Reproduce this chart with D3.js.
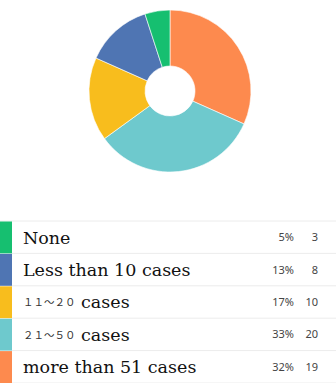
<!DOCTYPE html>
<html>
<head>
<meta charset="utf-8">
<script src="https://cdn.jsdelivr.net/npm/d3@7"></script>
<style>
  html, body { margin: 0; padding: 0; background: #fff; }
  svg { display: block; }
</style>
</head>
<body>
<div id="chart"></div>
<script>
// legend order (top to bottom)
const prefixes = ["", "", "１１～２０", "２１～５０", ""];
const labels = ["None", "Less than 10 cases", " cases", " cases", "more than 51 cases"];
const counts = [3, 8, 10, 20, 19];
const colors = ["#16bf70", "#4f75b3", "#f8bd1d", "#6ec9cd", "#fd8a4e"];

const width = 336, height = 383;
const cx = 170, cy = 91, outerR = 81, innerR = 25;

const svg = d3.select("#chart")
    .append("svg")
    .attr("width", width)
    .attr("height", height);

const total = d3.sum(counts);
const idx = d3.range(counts.length);

// pie drawn clockwise from the top, last category first
const pie = d3.pie()
    .sort(null)
    .value(i => counts[i]);
const arcs = pie(idx.slice().reverse());

const arcGen = d3.arc()
    .innerRadius(innerR)
    .outerRadius(outerR);

svg.append("g")
    .attr("transform", `translate(${cx},${cy})`)
    .selectAll("path")
    .data(arcs)
    .join("path")
    .attr("d", arcGen)
    .attr("fill", d => colors[d.data])
    .attr("stroke", "#fff")
    .attr("stroke-width", 0.6);

// legend table
const tableTop = 221, rowH = 32.4;
const y = d3.scaleLinear().domain([0, counts.length]).range([tableTop, tableTop + rowH * counts.length]);

const legend = svg.append("g");

legend.append("line")
    .attr("x1", 0).attr("x2", width)
    .attr("y1", y(0)).attr("y2", y(0))
    .attr("stroke", "#ececec");

const rows = legend.selectAll("g.row")
    .data(idx)
    .join("g")
    .attr("class", "row")
    .attr("transform", i => `translate(0,${y(i)})`);

rows.append("rect")
    .attr("x", 0).attr("y", 0.5)
    .attr("width", 12).attr("height", rowH - 0.5)
    .attr("fill", i => colors[i]);

rows.append("line")
    .attr("x1", 12).attr("x2", width)
    .attr("y1", rowH).attr("y2", rowH)
    .attr("stroke", "#ececec");

const lbl = rows.append("text")
    .attr("x", 23)
    .attr("y", rowH / 2 + 6.5)
    .style("font-family", "'DejaVu Serif', 'Liberation Serif', serif")
    .style("font-size", "17.5px")
    .attr("fill", "#111");

lbl.filter(i => prefixes[i])
    .append("tspan")
    .style("font-family", "'Noto Sans CJK JP', sans-serif")
    .style("font-size", "10.5px")
    .attr("dy", -2)
    .attr("fill", "#333")
    .text(i => prefixes[i]);

lbl.append("tspan")
    .attr("dy", i => prefixes[i] ? 2 : 0)
    .text(i => labels[i]);

rows.append("text")
    .attr("x", 294)
    .attr("y", rowH / 2 + 4)
    .attr("text-anchor", "end")
    .style("font-family", "'Noto Sans', sans-serif")
    .style("font-size", "11px")
    .attr("fill", "#444")
    .text(i => Math.round(counts[i] / total * 100) + "%");

rows.append("text")
    .attr("x", 318)
    .attr("y", rowH / 2 + 4)
    .attr("text-anchor", "end")
    .style("font-family", "'Noto Sans', sans-serif")
    .style("font-size", "11px")
    .attr("fill", "#444")
    .text(i => counts[i]);
</script>
</body>
</html>
